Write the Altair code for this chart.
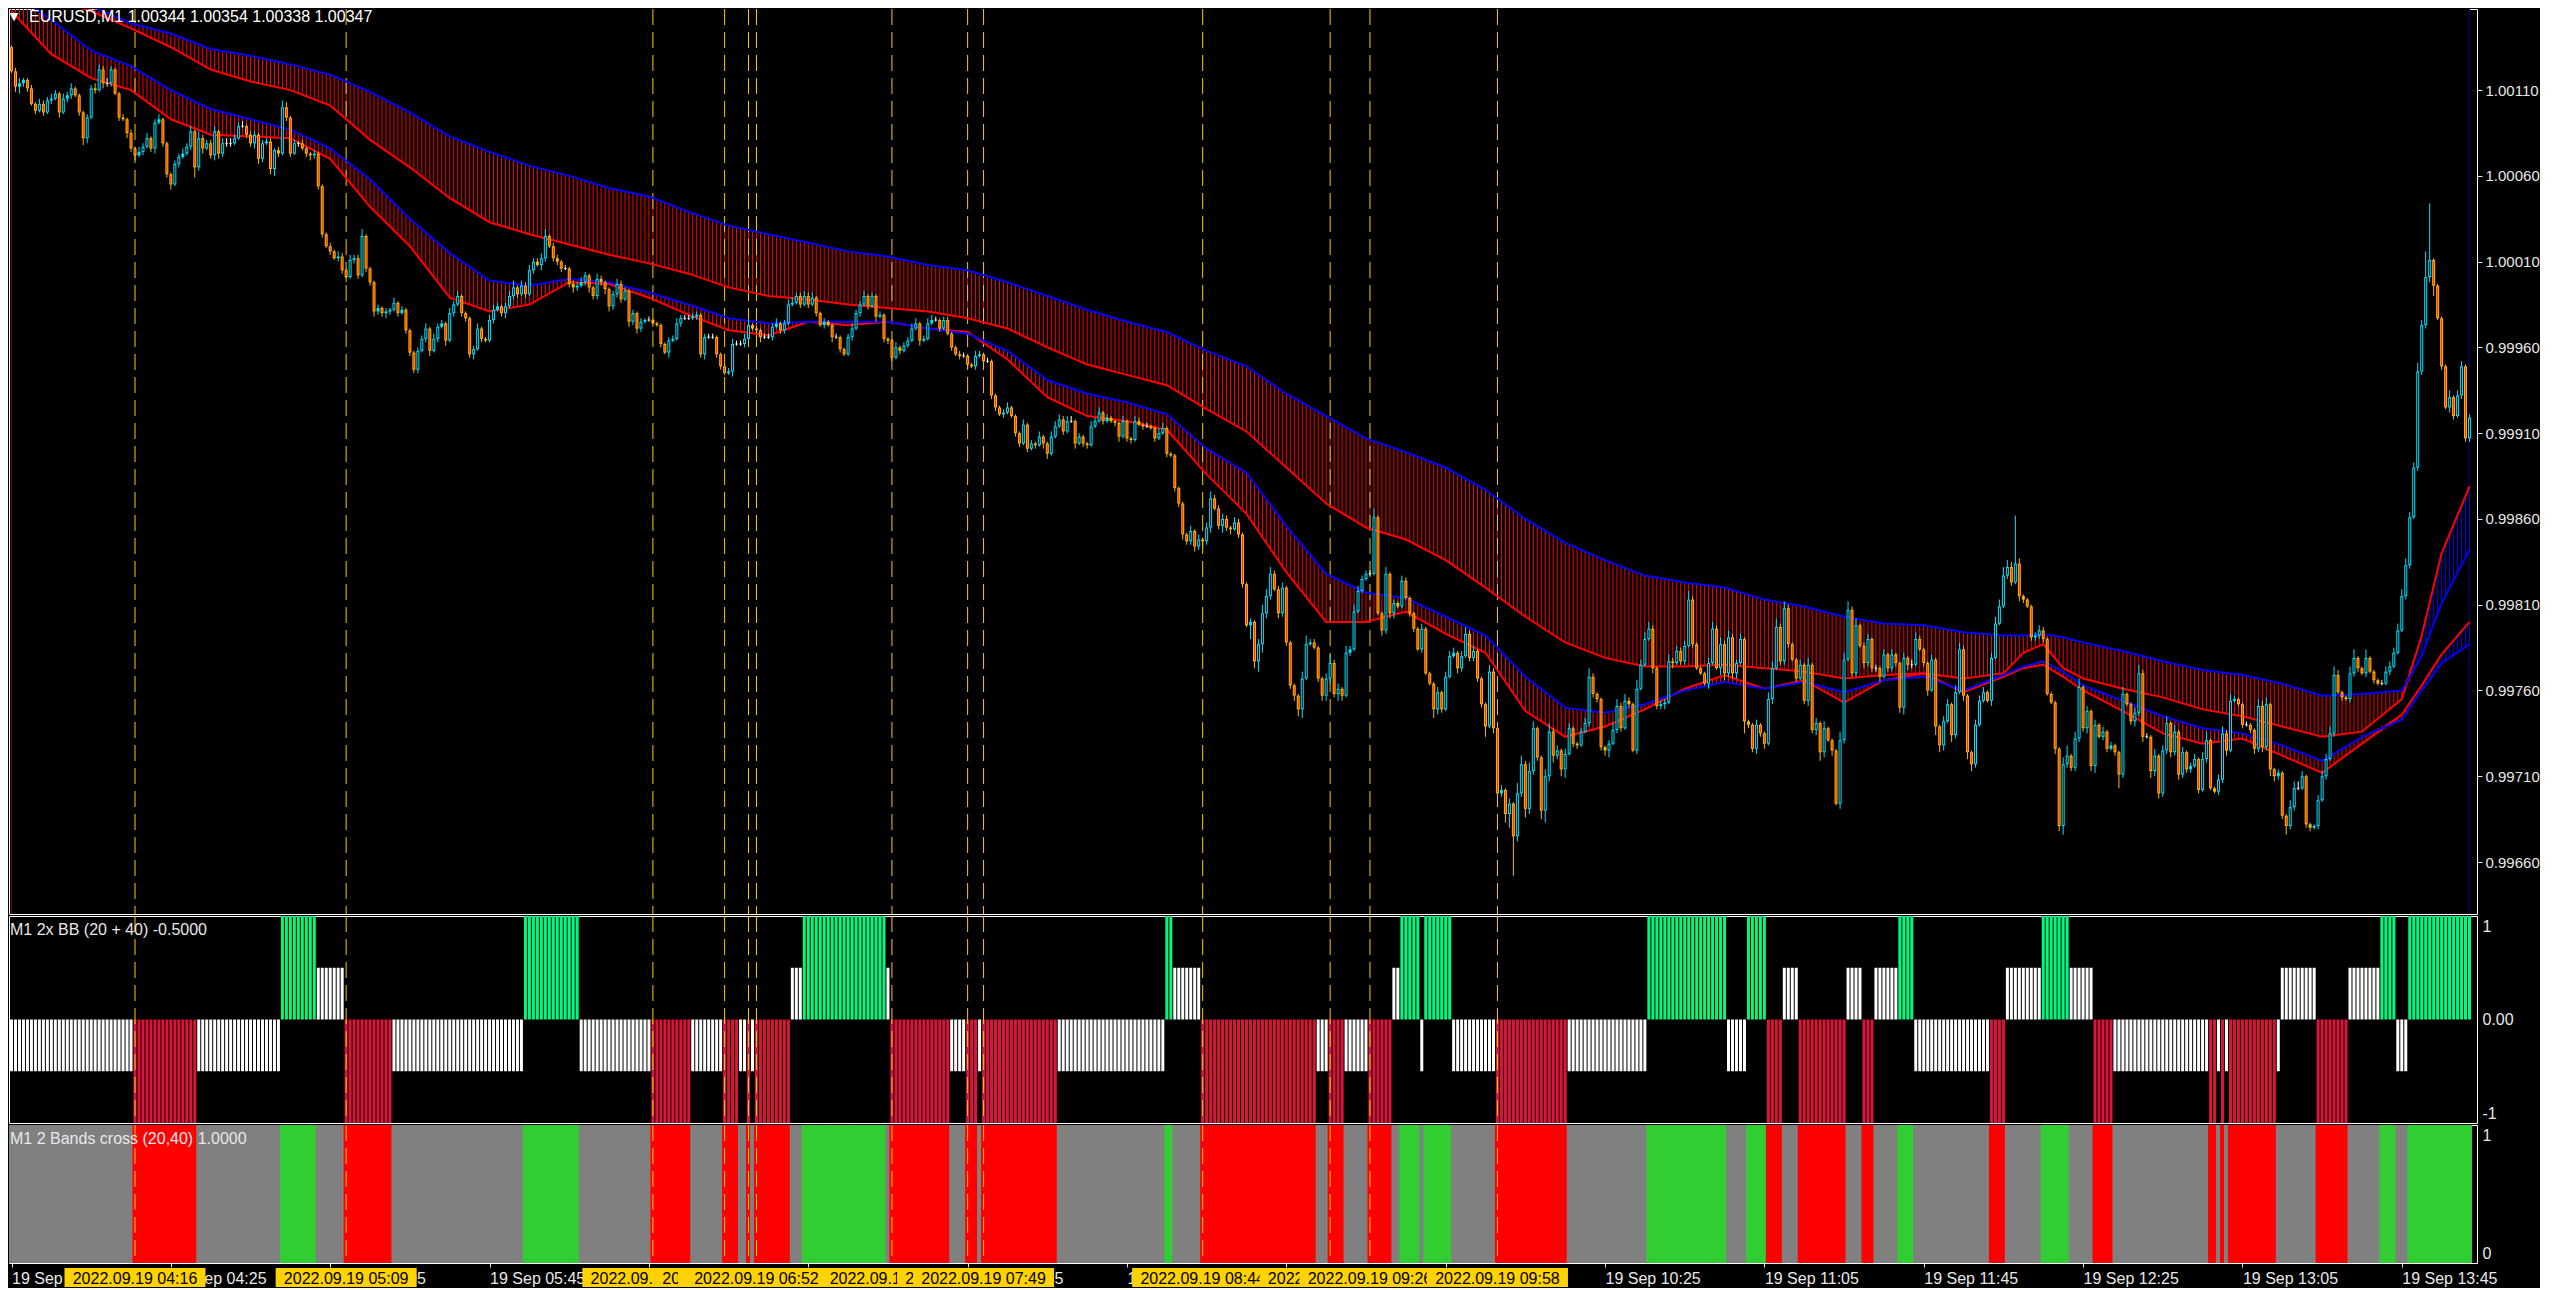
import altair as alt
import pandas as pd

# ---------------- data (prices as 1e-5 steps above 0.99000) ----------------
open_first = 1135
close_pts = [
    1121, 1112, 1114, 1116, 1111, 1102, 1098, 1102, 1097, 1104,
    1105, 1108, 1097, 1105, 1107, 1111, 1107, 1097, 1082, 1094,
    1111, 1110, 1122, 1114, 1114, 1122, 1108, 1094, 1093, 1085,
    1076, 1072, 1074, 1077, 1082, 1076, 1091, 1093, 1079, 1061,
    1055, 1067, 1071, 1073, 1077, 1086, 1065, 1082, 1076, 1079,
    1072, 1086, 1073, 1079, 1079, 1079, 1082, 1089, 1089, 1084,
    1079, 1084, 1070, 1079, 1080, 1064, 1075, 1073, 1100, 1094,
    1073, 1079, 1079, 1076, 1073, 1072, 1073, 1054, 1026, 1019,
    1016, 1012, 1013, 1005, 1001, 1011, 1012, 1002, 1025, 1006,
    998, 981, 983, 980, 981, 982, 986, 980, 982, 970,
    957, 947, 958, 965, 971, 958, 965, 972, 974, 964,
    980, 985, 990, 980, 977, 956, 959, 971, 965, 964,
    976, 982, 984, 980, 984, 990, 995, 991, 996, 991,
    1005, 1010, 1008, 1012, 1025, 1019, 1012, 1010, 1006, 1006,
    997, 995, 996, 998, 1002, 995, 990, 1000, 998, 994,
    984, 991, 997, 988, 993, 975, 980, 971, 975, 976,
    976, 974, 973, 962, 957, 964, 965, 974, 977, 977,
    977, 978, 979, 956, 966, 966, 966, 956, 949, 945,
    946, 962, 962, 962, 965, 973, 971, 970, 966, 966,
    966, 972, 974, 970, 974, 985, 986, 990, 985, 990,
    985, 989, 980, 973, 975, 973, 966, 966, 959, 956,
    966, 971, 980, 985, 990, 984, 990, 978, 979, 965,
    964, 954, 960, 958, 961, 964, 971, 974, 964, 965,
    974, 976, 976, 971, 976, 968, 960, 956, 955, 955,
    950, 949, 955, 956, 952, 952, 932, 925, 921, 922,
    925, 920, 910, 904, 915, 901, 904, 903, 908, 904,
    898, 908, 914, 918, 911, 917, 917, 904, 908, 904,
    903, 914, 917, 922, 917, 919, 917, 916, 908, 917,
    907, 906, 917, 915, 914, 914, 913, 907, 910, 913,
    898, 897, 878, 869, 851, 847, 853, 844, 848, 847,
    855, 872, 866, 856, 860, 855, 854, 858, 851, 822,
    798, 800, 777, 787, 805, 815, 828, 819, 805, 820,
    788, 763, 757, 749, 767, 787, 788, 785, 767, 757,
    767, 776, 758, 761, 757, 782, 784, 806, 818, 825,
    828, 828, 861, 805, 795, 828, 805, 811, 809, 824,
    814, 805, 796, 784, 796, 770, 764, 749, 759, 749,
    768, 780, 782, 773, 780, 793, 779, 783, 767, 752,
    739, 771, 738, 700, 702, 688, 694, 675, 700, 717,
    691, 713, 738, 721, 690, 710, 736, 722, 725, 714,
    723, 738, 729, 728, 736, 741, 768, 758, 755, 727,
    725, 729, 737, 751, 738, 754, 752, 725, 761, 775,
    790, 796, 773, 751, 752, 753, 777, 776, 783, 777,
    786, 813, 787, 773, 770, 764, 776, 796, 773, 787,
    770, 791, 770, 776, 790, 742, 740, 726, 740, 735,
    729, 755, 773, 797, 777, 808, 787, 778, 767, 775,
    754, 775, 737, 741, 724, 738, 731, 725, 694, 731,
    778, 807, 770, 798, 786, 776, 790, 773, 773, 768,
    781, 773, 781, 776, 750, 779, 775, 775, 790, 784,
    776, 760, 778, 739, 728, 742, 752, 734, 759, 784,
    757, 724, 717, 740, 754, 759, 754, 779, 799, 809,
    827, 832, 823, 834, 815, 813, 809, 791, 792, 795,
    790, 758, 753, 726, 681, 717, 722, 715, 732, 762,
    738, 748, 716, 740, 733, 736, 726, 728, 724, 711,
    758, 752, 742, 747, 770, 733, 733, 713, 722, 700,
    725, 741, 724, 736, 711, 724, 714, 716, 720, 702,
    720, 731, 703, 701, 708, 735, 725, 754, 755, 752,
    740, 740, 737, 726, 751, 727, 752, 714, 710, 712,
    687, 681, 692, 703, 703, 710, 682, 680, 681, 696,
    710, 720, 735, 769, 759, 756, 755, 770, 779, 773,
    770, 779, 771, 766, 764, 764, 771, 774, 782, 795,
    815, 833, 861, 890, 946, 973, 1001, 1011, 996, 977,
    949, 925, 931, 920, 932, 949, 907, 919,
]
wick_up = [
    1, 2, 3, 1, 1, 2, 1, 3, 2, 2,  3, 2, 1, 3, 2, 3, 1, 1, 1, 2,
    2, 3, 3, 2, 3, 2, 1, 1, 2, 1,  2, 1, 3, 2, 3, 1, 2, 3, 1, 1,
    1, 2, 2, 3, 2, 3, 1, 4, 2, 2,  2, 3, 1, 3, 3, 3, 2, 2, 3, 1,
    2, 2, 1, 2, 2, 2, 1, 2, 4, 3,  1, 2, 1, 2, 1, 1, 2, 1, 1, 1,
    2, 1, 3, 2, 1, 3, 2, 2, 4, 1,  1, 1, 2, 1, 2, 1, 3, 1, 2, 1,
    1, 1, 2, 2, 3, 1, 3, 2, 2, 1,  3, 2, 3, 1, 1, 1, 2, 3, 1, 1,
    3, 3, 2, 1, 2, 3, 4, 1, 3, 2,  3, 2, 2, 3, 4, 1, 2, 2, 1, 2,
    1, 2, 2, 3, 2, 1, 1, 3, 2, 1,  1, 2, 3, 2, 2, 1, 2, 1, 2, 1,
    2, 1, 1, 1, 1, 2, 2, 3, 2, 2,  2, 2, 2, 1, 2, 2, 2, 1, 1, 1,
    2, 3, 2, 2, 3, 3, 1, 2, 1, 2,  2, 2, 3, 1, 2, 3, 3, 2, 2, 3,
    2, 3, 1, 1, 2, 1, 1, 2, 1, 1,  2, 3, 2, 2, 3, 1, 2, 1, 2, 1,
    1, 1, 3, 1, 2, 2, 3, 3, 1, 2,  3, 3, 2, 1, 2, 2, 1, 1, 2, 2,
    1, 1, 3, 2, 1, 2, 1, 1, 1, 2,  3, 1, 1, 1, 3, 1, 2, 1, 3, 1,
    1, 3, 3, 3, 2, 3, 3, 1, 2, 1,  1, 3, 2, 3, 1, 2, 1, 1, 1, 3,
    1, 1, 3, 2, 1, 2, 1, 1, 3, 3,  1, 1, 1, 1, 1, 1, 3, 1, 3, 1,
    3, 4, 2, 2, 3, 2, 1, 3, 2, 1,  1, 2, 1, 3, 5, 4, 4, 2, 2, 3,
    1, 1, 1, 1, 4, 5, 2, 2, 1, 1,  3, 5, 2, 3, 1, 4, 2, 4, 3, 2,
    2, 2, 5, 1, 1, 4, 1, 2, 1, 3,  2, 1, 1, 1, 3, 1, 1, 1, 3, 1,
    3, 3, 3, 1, 3, 4, 2, 3, 1, 1,  1, 4, 2, 1, 3, 1, 3, 1, 6, 5,
    2, 5, 4, 1, 1, 4, 5, 2, 3, 1,  3, 3, 1, 1, 2, 3, 5, 2, 1, 1,
    1, 2, 4, 4, 2, 4, 2, 1, 5, 3,  4, 4, 2, 1, 2, 2, 4, 2, 3, 2,
    3, 5, 2, 1, 1, 1, 3, 4, 2, 4,  2, 4, 2, 2, 3, 1, 1, 1, 3, 1,
    1, 4, 4, 5, 2, 4, 2, 1, 1, 3,  1, 4, 1, 3, 1, 4, 1, 1, 1, 5,
    4, 5, 2, 4, 1, 2, 3, 1, 2, 1,  3, 1, 3, 1, 1, 3, 1, 3, 4, 2,
    1, 1, 3, 1, 1, 3, 3, 1, 4, 4,  2, 1, 1, 3, 3, 3, 1, 3, 4, 4,
    5, 4, 3, 28, 3, 1, 1, 1, 2, 3, 2, 1, 1, 1, 1, 4, 6, 1, 4, 5,
    1, 3, 1, 3, 1, 3, 1, 2, 1, 1,  4, 1, 1, 3, 5, 2, 2, 1, 4, 1,
    3, 4, 1, 4, 1, 3, 1, 2, 3, 1,  4, 5, 1, 1, 3, 4, 2, 4, 2, 1,
    1, 2, 1, 1, 4, 3, 4, 1, 1, 2,  1, 1, 4, 4, 4, 3, 1, 1, 1, 3,
    3, 3, 4, 5, 3, 1, 1, 4, 5, 1,  1, 5, 1, 1, 1, 2, 3, 3, 3, 4,
    4, 4, 3, 3, 5, 3, 15, 33, 1, 1, 1, 1, 4, 1, 3, 3, 1, 2,
]
wick_dn = [
    1, 3, 4, 2, 2, 1, 2, 1, 2, 1,  2, 1, 3, 1, 2, 2, 1, 2, 4, 3,
    1, 2, 1, 3, 2, 2, 1, 2, 1, 3,  2, 3, 1, 2, 1, 2, 3, 1, 2, 2,
    3, 1, 2, 1, 1, 2, 6, 2, 3, 1,  2, 3, 3, 2, 2, 2, 1, 1, 1, 2,
    2, 3, 3, 2, 1, 3, 4, 2, 1, 2,  2, 1, 2, 1, 2, 3, 2, 2, 2, 1,
    2, 1, 2, 2, 3, 1, 2, 2, 1, 2,  2, 3, 2, 2, 3, 2, 1, 2, 1, 2,
    2, 2, 2, 1, 2, 3, 1, 2, 1, 3,  1, 2, 1, 2, 2, 2, 3, 1, 2, 1,
    1, 2, 1, 2, 3, 1, 2, 2, 1, 2,  1, 2, 1, 3, 2, 1, 2, 2, 2, 1,
    2, 3, 2, 1, 2, 3, 2, 2, 2, 3,  3, 2, 2, 2, 1, 3, 2, 3, 2, 1,
    1, 2, 1, 2, 1, 3, 1, 1, 2, 1,  1, 1, 2, 2, 3, 1, 1, 2, 2, 1,
    1, 3, 1, 1, 2, 1, 1, 2, 3, 1,  1, 2, 1, 2, 2, 1, 1, 1, 2, 1,
    2, 1, 2, 1, 2, 1, 3, 1, 2, 1,  1, 2, 1, 2, 1, 2, 1, 3, 1, 2,
    2, 2, 1, 2, 1, 1, 1, 1, 3, 1,  1, 1, 1, 2, 1, 1, 2, 1, 2, 1,
    2, 1, 2, 1, 1, 1, 2, 2, 1, 2,  1, 1, 2, 2, 1, 2, 1, 2, 1, 3,
    3, 1, 1, 1, 2, 1, 1, 3, 1, 2,  2, 1, 1, 1, 2, 1, 1, 2, 3, 1,
    2, 2, 1, 1, 2, 1, 1, 2, 1, 1,  2, 1, 2, 2, 3, 2, 2, 3, 2, 4,
    2, 3, 1, 2, 4, 2, 3, 1, 2, 2,  1, 8, 4, 6, 5, 3, 2, 1, 3, 2,
    2, 2, 3, 4, 5, 1, 1, 1, 2, 3,  3, 3, 2, 4, 3, 1, 2, 1, 1, 1,
    1, 1, 1, 1, 3, 2, 3, 3, 1, 1,  1, 2, 2, 1, 2, 1, 1, 5, 3, 2,
    1, 1, 1, 3, 2, 1, 2, 2, 2, 2,  6, 1, 3, 3, 2, 5, 8, 23, 3, 2,
    5, 3, 2, 2, 5, 7, 3, 4, 2, 4,  5, 1, 2, 2, 1, 1, 2, 2, 2, 2,
    3, 4, 1, 2, 2, 1, 2, 1, 2, 1,  1, 1, 3, 2, 2, 3, 1, 3, 1, 2,
    2, 1, 2, 1, 1, 1, 3, 1, 1, 4,  4, 2, 3, 3, 1, 7, 2, 2, 3, 2,
    3, 1, 3, 1, 2, 2, 2, 1, 2, 1,  2, 3, 2, 3, 5, 3, 1, 3, 1, 3,
    2, 1, 2, 2, 1, 3, 2, 2, 2, 3,  1, 2, 2, 2, 3, 4, 3, 2, 1, 1,
    2, 3, 1, 5, 4, 3, 1, 4, 2, 1,  3, 4, 4, 2, 1, 1, 1, 3, 1, 1,
    1, 2, 2, 1, 3, 2, 1, 2, 2, 2,  2, 1, 1, 3, 3, 5, 2, 2, 2, 2,
    2, 3, 3, 4, 1, 2, 2, 1, 2, 8,  2, 1, 2, 3, 2, 3, 1, 4, 3, 3,
    2, 2, 3, 2, 3, 2, 2, 2, 1, 2,  1, 2, 1, 1, 2, 2, 3, 1, 1, 1,
    2, 1, 2, 3, 2, 3, 2, 4, 3, 2,  2, 5, 2, 2, 1, 1, 2, 2, 1, 2,
    1, 2, 1, 2, 1, 2, 1, 2, 2, 2,  1, 2, 1, 2, 1, 1, 1, 2, 1, 1,
    1, 2, 2, 1, 2, 2, 2, 3, 6, 1,  2, 1, 3, 2, 1, 2, 2, 2,
]

# two band pairs, read at knot bars
knot_bar = [0, 10, 20, 30, 40, 50, 60, 70, 80, 90,
            100, 110, 120, 130, 140, 150, 160, 170, 180, 190,
            200, 210, 220, 230, 240, 250, 260, 270, 280, 290,
            300, 310, 320, 330, 340, 350, 360, 370, 380, 390,
            400, 410, 420, 430, 440, 450, 460, 470, 480, 490,
            500, 505, 510, 515, 520, 530, 540, 550, 560, 570,
            580, 590, 600, 605, 610, 617]
band_u40 = [1174, 1167, 1159, 1149, 1143, 1134, 1130, 1125, 1119, 1109,
            1097, 1083, 1074, 1066, 1060, 1053, 1048, 1039, 1031, 1026,
            1021, 1016, 1013, 1008, 1005, 998, 990, 982, 975, 969,
            958, 949, 933, 920, 907, 899, 890, 877, 860, 846,
            836, 827, 823, 820, 813, 809, 803, 799, 798, 794,
            792, 792, 793, 791, 788, 783, 777, 772, 769, 764,
            757, 758, 760, 780, 811, 842]
band_u20 = [1169, 1163, 1156, 1146, 1135, 1122, 1115, 1110, 1101, 1081,
            1065, 1047, 1033, 1026, 1020, 1014, 1009, 1003, 995, 990,
            988, 985, 983, 981, 977, 971, 960, 950, 944, 938,
            924, 911, 890, 869, 855, 848, 836, 820, 803, 788,
            779, 774, 774, 775, 773, 771, 767, 769, 770, 767,
            770, 782, 787, 773, 767, 761, 756, 749, 745, 739,
            733, 736, 755, 792, 840, 879]
band_l40 = [1167, 1151, 1133, 1124, 1110, 1099, 1093, 1087, 1076, 1058,
            1035, 1015, 999, 996, 1000, 998, 992, 985, 977, 974,
            975, 975, 975, 971, 968, 958, 941, 933, 928, 921,
            901, 887, 856, 828, 817, 814, 803, 792, 768, 750,
            747, 752, 760, 765, 761, 765, 759, 766, 768, 760,
            769, 774, 777, 771, 763, 754, 745, 738, 735, 728,
            719, 733, 743, 760, 776, 787]
band_l20 = [1156, 1131, 1117, 1110, 1093, 1084, 1083, 1082, 1070, 1042,
            1019, 989, 981, 985, 998, 997, 989, 979, 970, 967,
            975, 973, 975, 971, 969, 953, 931, 920, 917, 912,
            886, 863, 829, 800, 800, 806, 793, 782, 748, 733,
            739, 749, 761, 769, 761, 766, 753, 766, 770, 759,
            768, 773, 775, 768, 760, 748, 735, 729, 732, 722,
            712, 729, 746, 763, 781, 800]

# "2x BB" histogram state, as runs (length, value)
bb_len = [31, 16, 21, 9, 7, 12, 33, 14, 18, 10, 8, 4, 2, 1, 1, 9, 3, 21, 1, 15,
          4, 3, 1, 19, 27, 2, 7, 29, 3, 4, 6, 6, 2, 5, 1, 7, 11, 18, 20, 20,
          5, 5, 4, 4, 12, 4, 3, 6, 4, 19, 4, 9, 7, 6, 5, 24, 2, 1, 1, 1,
          12, 1, 9, 8, 8, 4, 3, 16]
bb_val = [-0.5, -1, -0.5, 1, 0.5, -1, -0.5, 1, -0.5, -1, -0.5, -1, -0.5, -1, -0.5, -1, 0.5, 1, 0.5, -1,
          -0.5, -1, -0.5, -1, -0.5, 1, 0.5, -1, -0.5, -1, -0.5, -1, 0.5, 1, -0.5, 1, -0.5, -1, -0.5, 1,
          -0.5, 1, -1, 0.5, -1, 0.5, -1, 0.5, 1, -0.5, -1, 0.5, 1, 0.5, -1, -0.5, -1, -0.5, -1, -0.5,
          -1, -0.5, 0.5, -1, 0.5, 1, -0.5, 1]

vline_bar = [31, 84, 161, 179, 185, 187, 221, 240, 244, 299, 331, 341, 373]
vline_label = ["2022.09.19 04:16", "2022.09.19 05:09", "2022.09.19 06:26", "2022.09.19 06:44",
               "2022.09.19 06:50", "2022.09.19 06:52", "2022.09.19 07:26", "2022.09.19 07:45",
               "2022.09.19 07:49", "2022.09.19 08:44", "2022.09.19 09:16", "2022.09.19 09:26",
               "2022.09.19 09:58"]
xtick_bar = [0, 40, 80, 120, 160, 200, 240, 280, 320, 360, 400, 440, 480, 520, 560, 600]
xtick_label = ["19 Sep 2022", "19 Sep 04:25", "19 Sep 05:05", "19 Sep 05:45", "19 Sep 06:25",
               "19 Sep 07:05", "19 Sep 07:45", "19 Sep 08:25", "19 Sep 09:05", "19 Sep 09:45",
               "19 Sep 10:25", "19 Sep 11:05", "19 Sep 11:45", "19 Sep 12:25", "19 Sep 13:05",
               "19 Sep 13:45"]
price_ticks = [0.99660, 0.99710, 0.99760, 0.99810, 0.99860, 0.99910, 0.99960, 1.00010, 1.00060, 1.00110]
title_main = "EURUSD,M1  1.00344 1.00354 1.00338 1.00347"
title_bb = "M1 2x BB  (20 + 40) -0.5000"
title_cross = "M1 2 Bands cross (20,40) 1.0000"

# ---------------- styling ----------------
BULL, BEAR, BEAR_FILL, DOJI = "#00E0FF", "#FFB400", "#FF2A00", "#FFFFFF"
RED, BLUE = "#FF0000", "#0000FF"
DASH, YEL = "#FFC800", "#FFD200"
BB_COL = {1: "#00FA80", 0.5: "#FFFFFF", -0.5: "#FFFFFF", -1: "#DC143C"}
ST_COL = {1: "#32CD32", 0.5: "#808080", -0.5: "#808080", -1: "#FF0000"}
FONT = "Liberation Sans"
TXT = "#E8E8E8"

W, H1, H2, H3 = 2468, 905, 207, 138
BASE, UNIT = 0.99, 1e-5
YMIN, YMAX = BASE + 629.7 * UNIT, BASE + 1157.3 * UNIT
XDOM = [0.625, 617.625]   # 4 px per bar


def pr(v):
    return round(BASE + v * UNIT, 6)


N = len(close_pts)
assert len(wick_up) == N and len(wick_dn) == N, (N, len(wick_up), len(wick_dn))
assert sum(bb_len) == N and len(bb_len) == len(bb_val)
for arr in (band_u40, band_u20, band_l40, band_l20):
    assert len(arr) == len(knot_bar)

bb_state = []
for n, v in zip(bb_len, bb_val):
    bb_state += [v] * n

kn = pd.DataFrame({"k": knot_bar,
                   "u40": [pr(v) for v in band_u40], "u20": [pr(v) for v in band_u20],
                   "l40": [pr(v) for v in band_l40], "l20": [pr(v) for v in band_l20]})
kn["hiU"] = kn[["u40", "u20"]].max(axis=1)
kn["loU"] = kn[["u40", "u20"]].min(axis=1)
kn["hiL"] = kn[["l40", "l20"]].max(axis=1)
kn["loL"] = kn[["l40", "l20"]].min(axis=1)
kn["midB"] = kn[["loU", "hiL"]].min(axis=1)
kn["top"] = YMAX
kn["bot"] = YMIN

rows = []
opens = [open_first] + close_pts[:-1]
for i in range(N):
    o, c = opens[i], close_pts[i]
    kind = "bull" if c > o else ("bear" if c < o else "doji")
    near = min(range(len(knot_bar)), key=lambda j: abs(knot_bar[j] - i))
    hatch = BLUE if band_u20[near] > band_u40[near] else RED
    rows.append(dict(
        i=i, c=pr(c), top=pr(max(o, c)), bot=pr(min(o, c)),
        hi=pr(max(o, c) + wick_up[i]), lo=pr(min(o, c) - wick_dn[i]),
        kind=kind, body=abs(c - o),
        lc={"bull": BULL, "bear": BEAR, "doji": DOJI}[kind],
        fc={"bull": "#000000", "bear": BEAR_FILL, "doji": DOJI}[kind],
        hatch=hatch, bb=bb_state[i], bbc=BB_COL[bb_state[i]], stc=ST_COL[bb_state[i]], one=1,
    ))
cd = pd.DataFrame(rows)

xs = alt.Scale(domain=XDOM, nice=False, zero=False)
ys = alt.Scale(domain=[YMIN, YMAX], nice=False, zero=False)

price_axis = alt.Axis(orient="right", values=price_ticks, format=".5f", tickSize=5, labelPadding=3,
                      labelBaseline="middle", title=None, labelFlush=False, labelOverlap=False,
                      labelFontSize=15)
x_expr = ("[" + ",".join(f"'{t}'" for t in xtick_label) + "][indexof(["
          + ",".join(str(v) for v in xtick_bar) + "], datum.value)]")
x_axis = alt.Axis(orient="bottom", values=xtick_bar, labelExpr=x_expr, tickSize=4, labelPadding=11,
                  labelAlign="left", labelBaseline="middle", labelFlush=False, labelOverlap=False,
                  labelBound=False, title=None)


def X(f="i:Q", axis=None):
    return alt.X(f, scale=xs, axis=axis)


def YP(f):
    return alt.Y(f, scale=ys, axis=price_axis)


# ---------------- main price panel ----------------
stripes = alt.Chart(cd).mark_rule(strokeWidth=1, clip=True).encode(
    x=X(), y=alt.value(0), y2=alt.value(H1), color=alt.Color("hatch:N", scale=None))
mask_top = alt.Chart(kn).mark_area(color="#000000", clip=True).encode(x=X("k:Q"), y=YP("top:Q"), y2="hiU:Q")
mask_mid = alt.Chart(kn).mark_area(color="#000000", clip=True).encode(x=X("k:Q"), y=YP("loU:Q"), y2="midB:Q")
mask_bot = alt.Chart(kn).mark_area(color="#000000", clip=True).encode(x=X("k:Q"), y=YP("loL:Q"), y2="bot:Q")

vl_df = pd.DataFrame({"i": vline_bar, "t": vline_label})


def vlines(axis=None):
    return alt.Chart(vl_df).mark_rule(color=DASH, strokeWidth=1, strokeDash=[16, 7]).encode(x=X(axis=axis))


band_lines = [
    alt.Chart(kn).mark_line(color=col, strokeWidth=2, clip=True).encode(x=X("k:Q"), y=YP(f"{f}:Q"))
    for f, col in (("u20", RED), ("u40", BLUE), ("l20", RED), ("l40", BLUE))
]

wicks = alt.Chart(cd).mark_rule(strokeWidth=1, clip=True).encode(
    x=X(), y=YP("lo:Q"), y2="hi:Q", color=alt.Color("lc:N", scale=None))
body_out = alt.Chart(cd[cd.kind != "doji"]).mark_bar(size=3, clip=True, orient="vertical").encode(
    x=X(), y=YP("top:Q"), y2="bot:Q", color=alt.Color("lc:N", scale=None))
body_in = alt.Chart(cd[cd.body >= 3]).mark_bar(size=1, clip=True, orient="vertical", yOffset=1, y2Offset=-1).encode(
    x=X(), y=YP("top:Q"), y2="bot:Q", color=alt.Color("fc:N", scale=None))
doji = alt.Chart(cd[cd.kind == "doji"]).mark_tick(orient="horizontal", size=3, thickness=1,
                                                  color=DOJI, clip=True).encode(x=X(), y=YP("c:Q"))
t_main = alt.Chart(pd.DataFrame({"t": [title_main]})).mark_text(
    align="left", baseline="middle", font=FONT, fontSize=16, color="#FFFFFF").encode(
    x=alt.value(20), y=alt.value(8), text="t:N")
t_tri = alt.Chart(pd.DataFrame({"t": ["\u25BC"]})).mark_text(
    align="center", baseline="middle", font="DejaVu Sans", fontSize=11, color="#FFFFFF").encode(
    x=alt.value(5), y=alt.value(8), text="t:N")

p1 = alt.layer(stripes, mask_top, mask_mid, mask_bot, vlines(), *band_lines,
               wicks, body_out, body_in, doji, t_main, t_tri).properties(width=W, height=H1)

# ---------------- 2x BB panel ----------------
bbs = alt.Scale(domain=[-1, 1], nice=False, zero=False)
bb_axis = alt.Axis(orient="right", values=[-1, 0, 1], tickSize=0, labelPadding=5, title=None,
                   labelExpr="datum.value == 0 ? '0.00' : (datum.value > 0 ? '1' : '-1')",
                   labelFlush=True, labelFlushOffset=-2, labelOverlap=False)
bb_bars = alt.Chart(cd).mark_bar(size=3, clip=True, orient="vertical").encode(
    x=X(), y=alt.Y("bb:Q", axis=bb_axis, scale=bbs), y2=alt.datum(0), color=alt.Color("bbc:N", scale=None))
t_bb = alt.Chart(pd.DataFrame({"t": [title_bb]})).mark_text(
    align="left", baseline="middle", font=FONT, fontSize=16, color=TXT).encode(
    x=alt.value(1), y=alt.value(14), text="t:N")
p2 = alt.layer(bb_bars, vlines(), t_bb).properties(width=W, height=H2)

# ---------------- bands cross panel (carries the time axis) ----------------
sts = alt.Scale(domain=[0, 1], nice=False, zero=False)
st_axis = alt.Axis(orient="right", values=[0, 1], tickSize=0, labelPadding=5, title=None,
                   labelFlush=True, labelFlushOffset=-2, labelOverlap=False, format="d")
st_bars = alt.Chart(cd).mark_bar(size=5, clip=True, orient="vertical").encode(
    x=X(axis=x_axis), y=alt.Y("one:Q", axis=st_axis, scale=sts), y2=alt.datum(0),
    color=alt.Color("stc:N", scale=None))
t_st = alt.Chart(pd.DataFrame({"t": [title_cross]})).mark_text(
    align="left", baseline="middle", font=FONT, fontSize=16, color=TXT).encode(
    x=alt.value(1), y=alt.value(14), text="t:N")

label_layers = []
for b, t in zip(vline_bar, vline_label):
    one = pd.DataFrame({"i": [b], "t": [t]})
    label_layers.append(alt.Chart(one).mark_bar(size=141, color=YEL, orient="vertical").encode(
        x=X(axis=x_axis), y=alt.value(H3 + 5), y2=alt.value(H3 + 24)))
    label_layers.append(alt.Chart(one).mark_text(
        align="center", baseline="middle", font=FONT, fontSize=16, color="#000000").encode(
        x=X(axis=x_axis), y=alt.value(H3 + 15.5), text="t:N"))

p3 = alt.layer(st_bars, vlines(x_axis), t_st, *label_layers).properties(width=W, height=H3)

chart = (
    alt.vconcat(p1, p2, p3, spacing=2, bounds="flush")
    .properties(padding=0)
    .configure(background="#000000")
    .configure_view(stroke="#FFFFFF", strokeWidth=1)
    .configure_axis(labelColor=TXT, tickColor=TXT, labelFont=FONT, labelFontSize=16,
                    grid=False, domain=False)
)

chart.save("out.html", embed_options={"renderer": "svg", "actions": False})
